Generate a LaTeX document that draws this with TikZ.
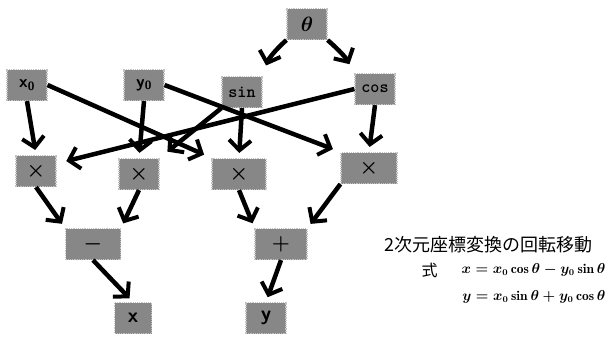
\documentclass[tikz,border=0pt]{standalone}
\usepackage{fontspec}
\newfontfamily\cjk{Noto Sans CJK JP}
\usepackage{amsmath}
\usetikzlibrary{arrows.meta}
\definecolor{boxgray}{RGB}{135,135,135}
\definecolor{edgegray}{RGB}{195,195,195}

\begin{document}
\begin{tikzpicture}[x=1pt, y=-1pt,
    box/.style={draw=edgegray, densely dotted, line width=1.2pt, fill=boxgray,
        minimum width=40pt, minimum height=31pt, inner sep=0pt,
        font=\huge\bfseries\boldmath},
    flow/.style={line width=4.5pt, solid,
        -{Straight Barb[length=10pt, width=22pt, line width=4pt]}, shorten >=5pt}]
    \useasboundingbox (0,0) rectangle (611,338);

    % Inputs
    \node[box] (theta) at (307,24) {$\theta$};
    \node[box, font=\LARGE\bfseries\boldmath] (xin) at (27,85) {$\mathsf{x_0}$};
    \node[box, font=\LARGE\bfseries\boldmath] (yin) at (144,85) {$\mathsf{y_0}$};
    \node[box, font=\LARGE] (sin) at (242,92) {\texttt{\textbf{sin}}};
    \node[box, font=\LARGE] (cos) at (375,89) {\texttt{\textbf{cos}}};

    % Products
    \node[box] (mulA) at (36,171) {$\times$};
    \node[box] (mulB) at (139,174) {$\times$};
    \node[box, minimum width=54pt] (mulC) at (239,174) {$\times$};
    \node[box, minimum width=56pt] (mulD) at (369,168) {$\times$};

    % Sums and outputs
    \node[box, minimum width=55pt] (minus) at (93,244) {$-$};
    \node[box, minimum width=52pt] (plus) at (281,244) {$+$};
    \node[box, minimum width=37pt] (xout) at (133,318) {\textsf{x}};
    \node[box] (yout) at (266,318) {\textsf{y}};

    % Connectors
    \draw[flow, shorten >=11pt] (theta.south west) to[bend right=15] (sin.north east);
    \draw[flow, shorten >=10pt] (theta.south east) to[bend left=10] (cos.north west);
    \draw[flow] (xin.south) -- (mulA.north);
    \draw[flow] (yin.south) -- (mulB.north);
    \draw[flow] (sin.south) -- (mulC.north);
    \draw[flow] (cos.south) -- (mulD.north);
    \draw[flow, shorten >=8pt] (xin.east) -- (mulC.north west);
    \draw[flow, shorten >=8pt] (yin.east) -- (mulD.north west);
    \draw[flow, shorten >=10pt] (sin.south west) -- (mulB.north east);
    \draw[flow, shorten >=10pt] (cos.west) -- (mulA.20);
    \draw[flow] (mulA.south) -- (minus.north west);
    \draw[flow] (mulB.south) -- (minus.north east);
    \draw[flow] (mulC.south) -- (plus.north west);
    \draw[flow] (mulD.south west) -- (plus.north east);
    \draw[flow] (minus.south) -- (xout.north);
    \draw[flow] (plus.south) -- (yout.north);

    % Formula
    \node[anchor=west, font=\cjk\fontsize{18}{18}\selectfont] (title) at (381,245) {2次元座標変換の回転移動};
    \node[anchor=west, font=\cjk\fontsize{16}{16}\selectfont] (shiki) at (418,270) {式};
    \node[anchor=east, font=\fontsize{13.5}{13.5}\selectfont\boldmath] (eqx) at (609,270) {$x = x_0\cos\theta - y_0\sin\theta$};
    \node[anchor=east, font=\fontsize{13.5}{13.5}\selectfont\boldmath] (eqy) at (609,297) {$y = x_0\sin\theta + y_0\cos\theta$};
\end{tikzpicture}
\end{document}
